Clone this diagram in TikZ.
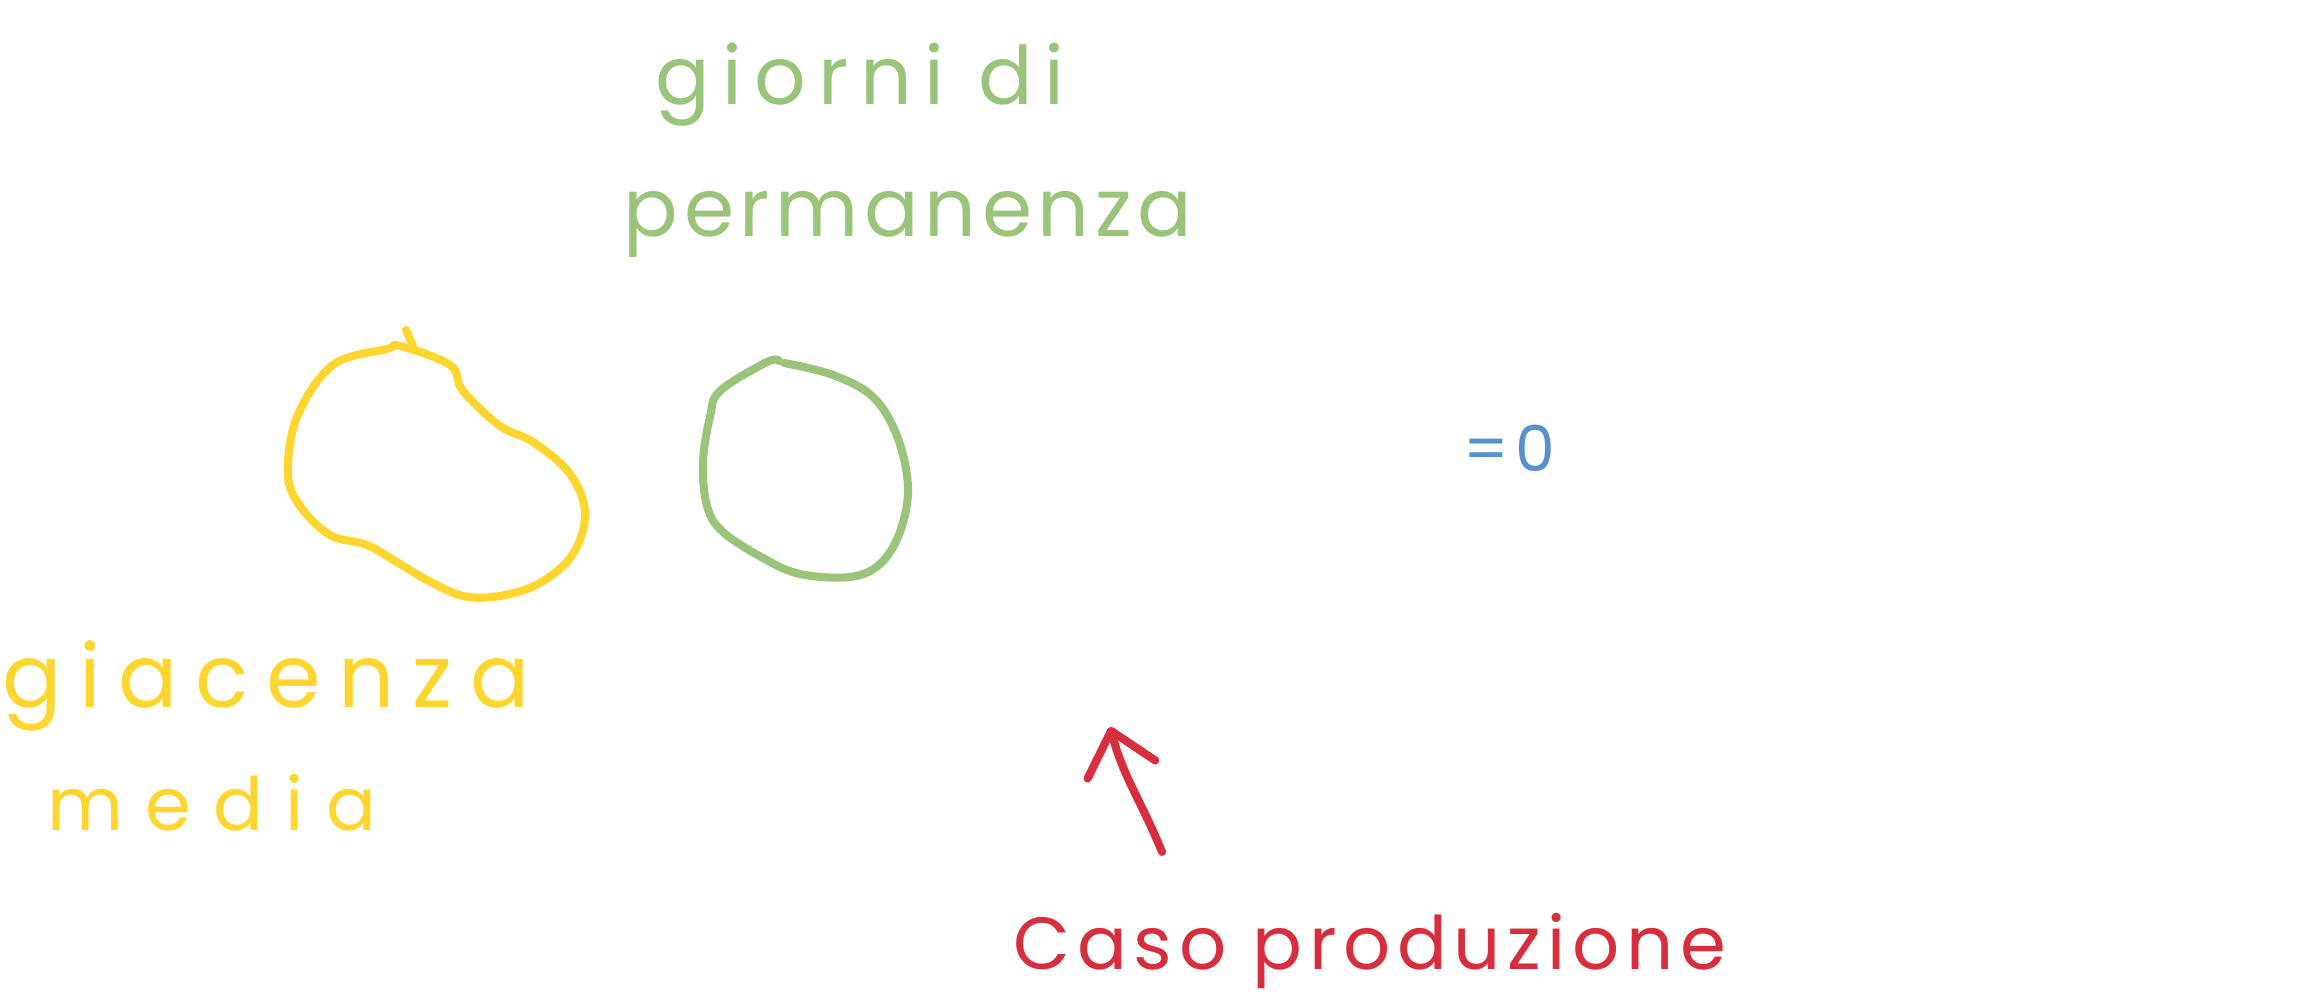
\documentclass[tikz,border=0pt]{standalone}
\usepackage{fontspec}
\usepackage{tikz}
\usetikzlibrary{arrows.meta}
\newfontfamily\handfont{Poppins}
\definecolor{giallo}{HTML}{FFD52F}
\definecolor{verde}{HTML}{9AC47A}
\definecolor{blu}{HTML}{5590D1}
\definecolor{rosso}{HTML}{D72E3D}

\begin{document}
\begin{tikzpicture}[
        tratto/.style={line width=2.3pt, line cap=round, line join=round},
        scritta/.style={inner sep=0pt, anchor=base west},
        >={Straight Barb[length=4mm, width=7mm, round]}
    ]
        \useasboundingbox (0,0) rectangle (23.01,10);

        % Labels
        \node[scritta, text=verde, font=\handfont\fontsize{23}{23}\selectfont\addfontfeature{LetterSpace=15}]
            (giorni) at (6.55,8.95) {giorni di};
        \node[scritta, text=verde, font=\handfont\fontsize{23}{23}\selectfont\addfontfeature{LetterSpace=7}]
            (permanenza) at (6.23,7.63) {permanenza};
        \node[scritta, text=giallo, font=\handfont\fontsize{25}{25}\selectfont\addfontfeature{LetterSpace=20}]
            (giacenza) at (0.02,2.92) {giacenza};
        \node[scritta, text=giallo, font=\handfont\fontsize{21}{21}\selectfont\addfontfeature{LetterSpace=30}]
            (media) at (0.47,1.69) {media};
        \node[scritta, text=blu, font=\handfont\fontsize{18}{18}\selectfont\addfontfeature{LetterSpace=10}]
            (zero) at (14.63,5.28) {=0};
        \node[scritta, text=rosso, font=\handfont\fontsize{21}{21}\selectfont\addfontfeature{LetterSpace=9}]
            (caso) at (10.13,0.30) {Caso produzione};

        % Yellow blob
        \draw[tratto, giallo] plot[smooth cycle, tension=0.6] coordinates {
            (4.00,6.54) (4.50,6.35) (4.63,6.09) (5.00,5.74) (5.33,5.58)
            (5.70,5.26) (5.85,4.87) (5.73,4.46) (5.40,4.17) (5.00,4.04)
            (4.63,4.04) (4.27,4.20) (4.00,4.36) (3.67,4.55) (3.30,4.65)
            (3.00,4.94) (2.88,5.26) (2.97,5.83) (3.33,6.35) (3.87,6.51)};
        \draw[tratto, giallo] (4.06,6.70) -- (4.13,6.54);

        % Green circle
        \draw[tratto, verde] plot[smooth, tension=0.6] coordinates {
            (7.84,6.37) (8.33,6.25) (8.73,6.03) (8.97,5.64) (9.08,5.13)
            (9.00,4.68) (8.80,4.36) (8.50,4.23) (8.00,4.26) (7.63,4.42)
            (7.23,4.68) (7.07,4.94) (7.03,5.38) (7.10,5.83) (7.20,6.09)
            (7.67,6.38) (7.79,6.39)};

        % Arrow
        \coordinate (tail) at (11.62,1.48);
        \coordinate (tip) at (11.10,2.73);
        \draw[tratto, rosso, ->] (tail) to[out=112, in=-75] (tip);
    \end{tikzpicture}
\end{document}
